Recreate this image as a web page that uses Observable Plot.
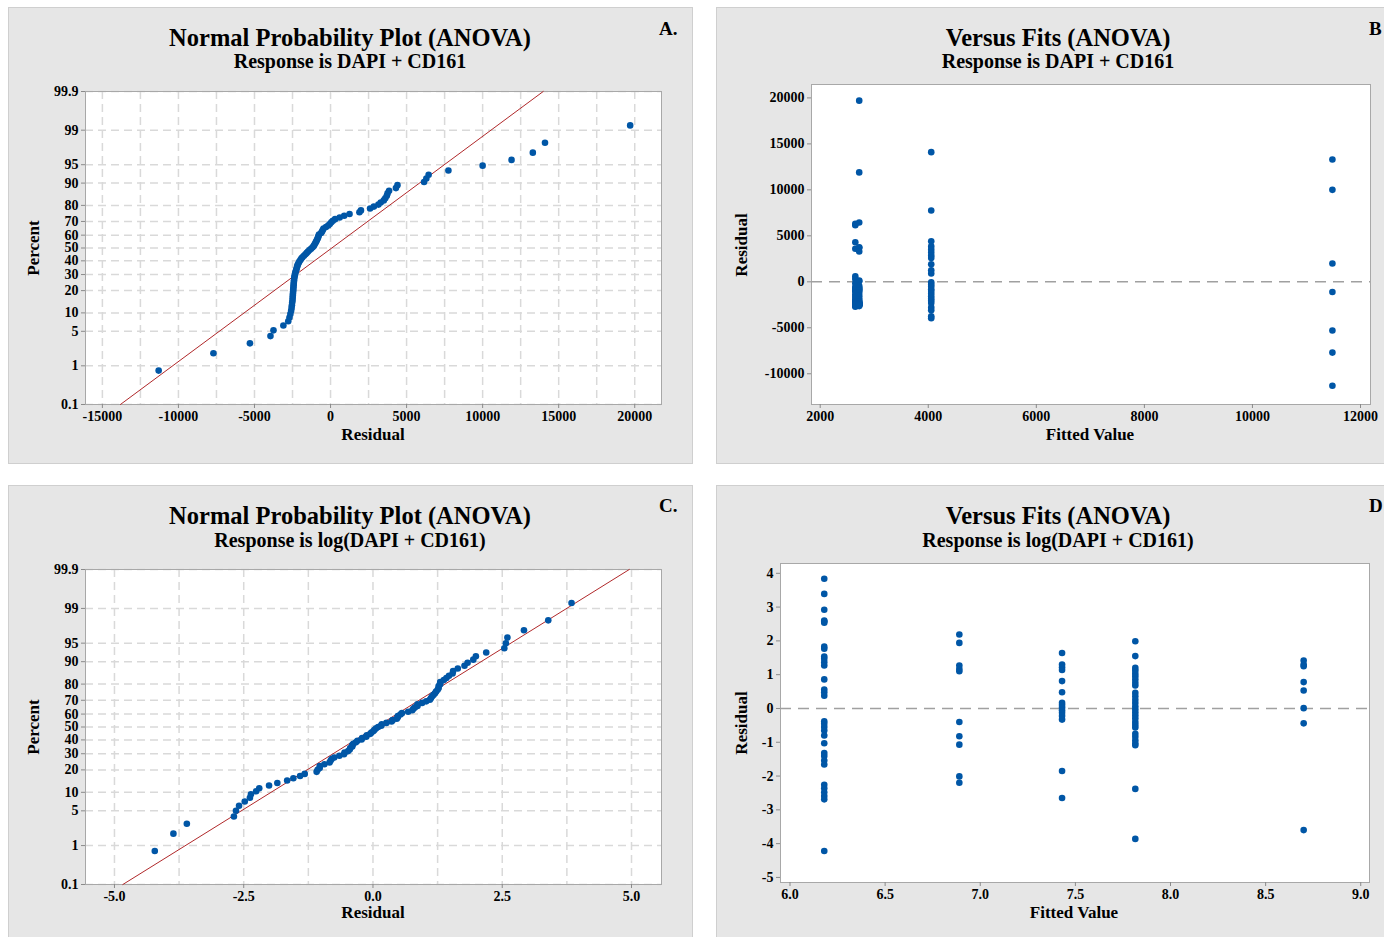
<!DOCTYPE html>
<html>
<head>
<meta charset="utf-8">
<script src="https://cdn.jsdelivr.net/npm/d3@7"></script>
<script src="https://cdn.jsdelivr.net/npm/@observablehq/plot@0.6"></script>
<style>
  html, body { margin: 0; padding: 0; background: #ffffff; }
  #page { position: relative; width: 1384px; height: 937px; overflow: hidden;
          font-family: "Liberation Serif", "Times New Roman", serif; }
  .panel { position: absolute; background: #e6e6e6; border: 1px solid #cfcfcf; box-sizing: border-box; }
  .t { position: absolute; white-space: nowrap; font-weight: bold; line-height: 1; color: #000; }
  .plotbox { position: absolute; }
</style>
</head>
<body>
<div id="page"></div>
<script>
// ---------------- DATA ----------------
// Normal-probability percent ticks
const percentTicks = [0.1, 1, 5, 10, 20, 30, 40, 50, 60, 70, 80, 90, 95, 99, 99.9];

// Panel A / B : raw response, ANOVA residuals grouped by fitted value
const fitsB = [2650, 2722, 4055, 11480];
const residB_fit2650 = [6300, 6150, 4300, 3600, 600, 300, -150, -560, -790, -900, -1050, -1380, -1650, -1920, -2100, -2180, -2240, -2330, -2370, -2400, -2420, -2440, -2460, -2480, -2500, -2540, -2590, -2700];
const residB_fit2722 = [19700, 11900, 6450, 3750, 3700, 3300, 150, 50, -460, -620, -760, -860, -950, -1180, -1480, -1750, -1980, -2150, -2210, -2270, -2350, -2390, -2410, -2430, -2450, -2470, -2490, -2520, -2560, -2640];
const residB_fit4055 = [14100, 7750, 4400, 3850, 3500, 3150, 2850, 2600, 1900, 1250, 900, -50, -300, -510, -820, -1000, -1280, -1560, -1850, -2050, -2300, -2780, -3100, -3750, -3950];
const residB_fit11480 = [13300, 10000, 2000, -1100, -5300, -7700, -11300];

// Panel C / D : log response
const fitsD = [6.18, 6.89, 7.43, 7.815, 8.70];
const residD_fit618 = [3.84, 3.39, 2.92, 2.60, 2.57, 2.54, 1.83, 1.77, 1.54, 1.47, 1.37, 1.27, 0.86, 0.56, 0.48, 0.38, -0.38, -0.45, -0.55, -0.65, -0.80, -1.03, -1.32, -1.41, -1.54, -1.66, -2.26, -2.36, -2.48, -2.59, -2.69, -4.22];
const residD_fit689 = [2.19, 1.94, 1.27, 1.17, 1.10, -0.40, -0.82, -1.07, -2.01, -2.20];
const residD_fit743 = [1.64, 1.30, 1.22, 1.14, 0.81, 0.48, 0.17, 0.10, 0.03, -0.05, -0.13, -0.22, -0.33, -1.85, -2.65];
const residD_fit781 = [1.99, 1.55, 1.20, 1.12, 1.03, 0.95, 0.86, 0.76, 0.68, 0.46, 0.36, 0.26, 0.16, 0.06, -0.03, -0.12, -0.21, -0.30, -0.40, -0.48, -0.56, -0.75, -0.84, -0.94, -1.03, -1.09, -2.38, -3.86];
const residD_fit870 = [1.42, 1.30, 1.25, 0.78, 0.53, 0.01, -0.44, -3.60];

// Axis ticks
const xTicksA = [-15000, -10000, -5000, 0, 5000, 10000, 15000, 20000];
const xGridA = [-15000, -12500, -10000, -7500, -5000, -2500, 0, 2500, 5000, 7500, 10000, 12500, 15000, 17500, 20000];
const xTicksC = [-5, -2.5, 0, 2.5, 5];
const xGridC = [-5, -3.75, -2.5, -1.25, 0, 1.25, 2.5, 3.75, 5];
const xTicksB = [2000, 4000, 6000, 8000, 10000, 12000];
const yTicksB = [-10000, -5000, 0, 5000, 10000, 15000, 20000];
const xTicksD = [6.0, 6.5, 7.0, 7.5, 8.0, 8.5, 9.0];
const yTicksD = [-5, -4, -3, -2, -1, 0, 1, 2, 3, 4];

// Texts
const titleNPP = "Normal Probability Plot (ANOVA)";
const titleVF = "Versus Fits (ANOVA)";
const subRaw = "Response is DAPI + CD161";
const subLog = "Response is log(DAPI + CD161)";

// ---------------- helpers ----------------
function probit(p) {
  const a = [-3.969683028665376e+01, 2.209460984245205e+02, -2.759285104469687e+02, 1.383577518672690e+02, -3.066479806614716e+01, 2.506628277459239e+00];
  const b = [-5.447609879822406e+01, 1.615858368580409e+02, -1.556989798598866e+02, 6.680131188771972e+01, -1.328068155288572e+01];
  const c = [-7.784894002430293e-03, -3.223964580411365e-01, -2.400758277161838e+00, -2.549671010229297e+00, 4.374664141464968e+00, 2.938163982698783e+00];
  const d = [7.784695709041462e-03, 3.224671290700398e-01, 2.445134137142996e+00, 3.754408661907416e+00];
  const pl = 0.02425, ph = 1 - pl;
  let q, r;
  if (p < pl) {
    q = Math.sqrt(-2 * Math.log(p));
    return (((((c[0]*q+c[1])*q+c[2])*q+c[3])*q+c[4])*q+c[5]) / ((((d[0]*q+d[1])*q+d[2])*q+d[3])*q+1);
  }
  if (p <= ph) {
    q = p - 0.5; r = q * q;
    return (((((a[0]*r+a[1])*r+a[2])*r+a[3])*r+a[4])*r+a[5])*q / (((((b[0]*r+b[1])*r+b[2])*r+b[3])*r+b[4])*r+1);
  }
  q = Math.sqrt(-2 * Math.log(1 - p));
  return -(((((c[0]*q+c[1])*q+c[2])*q+c[3])*q+c[4])*q+c[5]) / ((((d[0]*q+d[1])*q+d[2])*q+d[3])*q+1);
}

const page = document.getElementById("page");
const FONT = "'Liberation Serif', 'Times New Roman', serif";
const BLUE = "#0056a6";

function panel(x, y, w, h) {
  const d = document.createElement("div");
  d.className = "panel";
  Object.assign(d.style, {left: x + "px", top: y + "px", width: w + "px", height: h + "px"});
  page.appendChild(d);
}
function text(str, x, baseline, size, anchor = "middle") {
  const d = document.createElement("div");
  d.className = "t";
  d.textContent = str;
  d.style.fontSize = size + "px";
  d.style.left = x + "px";
  d.style.top = (baseline - 0.84 * size) + "px";
  if (anchor === "middle") d.style.transform = "translateX(-50%)";
  page.appendChild(d);
}
function vtext(str, cx, cy, size) {
  const d = document.createElement("div");
  d.className = "t";
  d.textContent = str;
  d.style.fontSize = size + "px";
  d.style.left = cx + "px";
  d.style.top = cy + "px";
  d.style.transform = "translate(-50%,-50%) rotate(-90deg)";
  page.appendChild(d);
}
function place(svg, x, y, w, h) {
  const d = document.createElement("div");
  d.className = "plotbox";
  Object.assign(d.style, {left: x + "px", top: y + "px", width: w + "px", height: h + "px"});
  d.appendChild(svg);
  page.appendChild(d);
}

const baseStyle = {fontFamily: FONT, fontSize: "14px", fontWeight: "bold", color: "#000", background: "transparent", overflow: "visible"};
const gridOpts = {stroke: "#d9d9d9", strokeOpacity: 1, strokeWidth: 1.5, strokeDasharray: "8,5"};
const axisCommon = {tickSize: 4, tickPadding: 3, stroke: "#8a8a8a", fill: "#000", label: null};

function normalPlot(resid, cfg) {
  const sorted = resid.slice().sort(d3.ascending);
  const n = sorted.length;
  const pts = sorted.map((r, i) => ({r, z: probit((i + 1 - 0.3) / (n + 0.4))}));
  const mu = d3.mean(resid), sd = d3.deviation(resid);
  const zLo = probit(percentTicks[0] / 100), zHi = probit(percentTicks[percentTicks.length - 1] / 100);
  const fit = [{r: mu + sd * zLo, z: zLo}, {r: mu + sd * zHi, z: zHi}];
  const yTicks = percentTicks.map(p => probit(p / 100));
  const lab = new Map(yTicks.map((z, i) => [z, String(percentTicks[i])]));
  return Plot.plot({
    width: cfg.w, height: cfg.h,
    marginLeft: cfg.ml, marginRight: cfg.mr, marginTop: cfg.mt, marginBottom: cfg.mb,
    x: {domain: cfg.xDomain},
    y: {domain: [zLo, zHi]},
    style: baseStyle,
    marks: [
      Plot.frame({fill: "#ffffff", stroke: null}),
      Plot.gridY(yTicks, gridOpts),
      Plot.gridX(cfg.xGrid, gridOpts),
      Plot.frame({stroke: "#a8a8a8"}),
      Plot.axisY({...axisCommon, ticks: yTicks, tickFormat: z => lab.get(z)}),
      Plot.axisX({...axisCommon, ticks: cfg.xTicks, tickFormat: cfg.xFormat}),
      Plot.line(fit, {x: "r", y: "z", stroke: "#b0282a", strokeWidth: 1}),
      Plot.dot(pts, {x: "r", y: "z", r: 3.3, fill: BLUE, stroke: null})
    ]
  });
}

function fitsPlot(rows, cfg) {
  return Plot.plot({
    width: cfg.w, height: cfg.h,
    marginLeft: cfg.ml, marginRight: cfg.mr, marginTop: cfg.mt, marginBottom: cfg.mb,
    x: {domain: cfg.xDomain},
    y: {domain: cfg.yDomain},
    style: baseStyle,
    marks: [
      Plot.frame({fill: "#ffffff", stroke: "#a8a8a8"}),
      Plot.ruleY([0], {stroke: "#a0a0a0", strokeWidth: 1.5, strokeDasharray: "11,7"}),
      Plot.axisY({...axisCommon, ticks: cfg.yTicks, tickFormat: cfg.yFormat}),
      Plot.axisX({...axisCommon, ticks: cfg.xTicks, tickFormat: cfg.xFormat}),
      Plot.dot(rows, {x: "fit", y: "resid", r: 3.3, fill: BLUE, stroke: null})
    ]
  });
}

// ---------------- build data tables ----------------
const groupsB = [residB_fit2650, residB_fit2722, residB_fit4055, residB_fit11480];
const rowsB = groupsB.flatMap((g, k) => g.map(r => ({fit: fitsB[k], resid: r})));
const residA = groupsB.flat();

const groupsD = [residD_fit618, residD_fit689, residD_fit743, residD_fit781, residD_fit870];
const rowsD = groupsD.flatMap((g, k) => g.map(r => ({fit: fitsD[k], resid: r})));
const residC = groupsD.flat();

// ---------------- panels ----------------
panel(8, 7, 685, 457);
panel(716, 7, 680, 457);
panel(8, 485, 685, 460);
panel(716, 485, 680, 460);

// A
place(normalPlot(residA, {
  w: 680, h: 380, ml: 77, mr: 27, mt: 11, mb: 56,
  xDomain: [-16110, 21760], xTicks: xTicksA, xGrid: xGridA, xFormat: d => String(d)
}), 8, 80, 680, 380);
text(titleNPP, 350, 46.5, 24.5);
text(subRaw, 350, 67.5, 20);
text("A.", 659, 35, 19, "start");
vtext("Percent", 33, 248, 17);
text("Residual", 373, 440, 17);

// B
place(fitsPlot(rowsB, {
  w: 668, h: 386, ml: 95, mr: 14, mt: 10, mb: 56,
  xDomain: [1839, 12185], yDomain: [-13342, 21459],
  xTicks: xTicksB, yTicks: yTicksB, xFormat: d => String(d), yFormat: d => String(d)
}), 716, 74, 668, 386);
text(titleVF, 1058, 46.5, 24.5);
text(subRaw, 1058, 67.5, 20);
text("B", 1369, 35, 19, "start");
vtext("Residual", 741, 245, 17);
text("Fitted Value", 1090, 440, 17);

// C
place(normalPlot(residC, {
  w: 680, h: 379, ml: 77, mr: 27, mt: 11, mb: 53,
  xDomain: [-5.56, 5.58], xTicks: xTicksC, xGrid: xGridC, xFormat: d => d.toFixed(1)
}), 8, 558, 680, 379);
text(titleNPP, 350, 524.5, 24.5);
text(subLog, 350, 546.5, 20);
text("C.", 659, 512, 19, "start");
vtext("Percent", 33, 727, 17);
text("Residual", 373, 918, 17);

// D
place(fitsPlot(rowsD, {
  w: 668, h: 384, ml: 64, mr: 15, mt: 10, mb: 55,
  xDomain: [5.95, 9.046], yDomain: [-5.15, 4.29],
  xTicks: xTicksD, yTicks: yTicksD, xFormat: d => d.toFixed(1), yFormat: d => String(d)
}), 716, 553, 668, 384);
text(titleVF, 1058, 524.5, 24.5);
text(subLog, 1058, 546.5, 20);
text("D", 1369, 512, 19, "start");
vtext("Residual", 741, 723, 17);
text("Fitted Value", 1074, 918, 17);
</script>
</body>
</html>
